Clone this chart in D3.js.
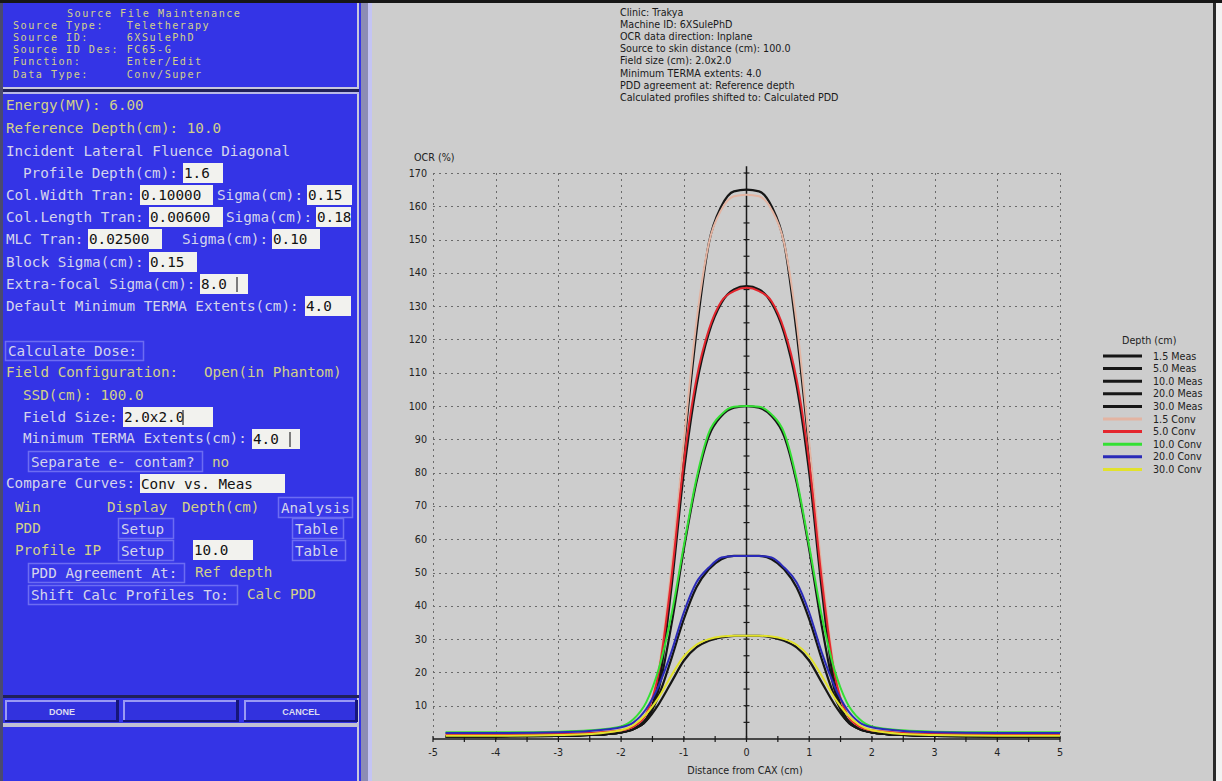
<!DOCTYPE html>
<html><head><meta charset="utf-8">
<script src="https://cdn.jsdelivr.net/npm/d3@7"></script>
<style>body{margin:0;background:#fff}svg{display:block}</style>
</head><body>
<svg id="c" width="1222" height="781"></svg>
<script>
// ---- profile data: off-axis ratio (%) vs distance from CAX (cm) ----
const distance = [-4.8,-4,-3,-2.5,-2,-1.8,-1.6,-1.4,-1.2,-1,-0.8,-0.6,-0.4,-0.2,0,0.2,0.4,0.6,0.8,1,1.2,1.4,1.6,1.8,2,2.5,3,4,5];
const meas15  = [0.8,0.8,0.9,1.2,2.0,3.0,5.5,19,48,87,122,149,160,164.5,165,164.5,160,149,122,87,48,19,5.5,3.0,2.0,1.2,0.9,0.8,0.8];
const meas50  = [0.8,0.8,0.9,1.2,2.0,3.0,5.5,16,45,80,106,122,131,135,136,135,131,122,106,80,45,16,5.5,3.0,2.0,1.2,0.9,0.8,0.8];
const meas100 = [0.8,0.8,0.9,1.2,2.0,3.0,6,15,34,57,77,91,97,99.5,100,99.5,97,91,77,57,34,15,6,3.0,2.0,1.2,0.9,0.8,0.8];
const meas200 = [0.8,0.8,0.9,1.2,2.0,3.2,6,13,24,36,45.5,51,54,55,55,55,54,51,45.5,36,24,13,6,3.2,2.0,1.2,0.9,0.8,0.8];
const meas300 = [0.8,0.8,0.9,1.2,2.0,3.2,5.5,10.5,17,23.5,27.5,29.5,30.5,31,31,31,30.5,29.5,27.5,23.5,17,10.5,5.5,3.2,2.0,1.2,0.9,0.8,0.8];
const conv15  = [1.4,1.4,1.5,1.8,2.6,3.8,7.5,21,51,89,125,149,159,163,163.5,163,159,149,125,89,51,21,7.5,3.8,2.6,1.8,1.5,1.4,1.4];
const conv50  = [1.4,1.4,1.5,1.8,2.6,3.8,7.5,20,48,83,108,123,131.5,134.5,135.5,134.5,131.5,123,108,83,48,20,7.5,3.8,2.6,1.8,1.5,1.4,1.4];
const conv100 = [2.0,2.0,2.2,2.6,3.8,6,11,21,37,58,78,92,97.5,99.8,100,99.8,97.5,92,78,58,37,21,11,6,3.8,2.6,2.2,2.0,2.0];
const conv200 = [1.8,1.8,2.0,2.4,3.5,5,9,16,26,38,47,51.5,54.5,55,55,55,54.5,51.5,47,38,26,16,9,5,3.5,2.4,2.0,1.8,1.8];
const conv300 = [1.0,1.0,1.2,1.5,2.6,4.2,7.5,12.5,19,24.8,28.3,30,30.8,31,31,31,30.8,30,28.3,24.8,19,12.5,7.5,4.2,2.6,1.5,1.2,1.0,1.0];

const seriesNames  = ['1.5 Meas','5.0 Meas','10.0 Meas','20.0 Meas','30.0 Meas','1.5 Conv','5.0 Conv','10.0 Conv','20.0 Conv','30.0 Conv'];
const seriesValues = [meas15, meas50, meas100, meas200, meas300, conv15, conv50, conv100, conv200, conv300];
const seriesColors = ['#161616','#161616','#161616','#161616','#161616','#e3b4a2','#e4262e','#34e034','#2a2ab8','#e2e22c'];

const xTicks = [-5,-4,-3,-2,-1,0,1,2,3,4,5];
const yTicks = [10,20,30,40,50,60,70,80,90,100,110,120,130,140,150,160,170];

const infoLines = ['Clinic: Trakya','Machine ID: 6XSulePhD','OCR data direction: Inplane',
  'Source to skin distance (cm): 100.0','Field size (cm): 2.0x2.0','Minimum TERMA extents: 4.0',
  'PDD agreement at: Reference depth','Calculated profiles shifted to: Calculated PDD'];

const headerLines = ['Source Type:   Teletherapy','Source ID:     6XSulePhD','Source ID Des: FC65-G',
  'Function:      Enter/Edit','Data Type:     Conv/Super'];

const MONO = "'DejaVu Sans Mono', monospace";
const SANS = "'DejaVu Sans', sans-serif";
const BLUE = '#3434e6';
const KHAKI = '#d2d08a';
const PALE = '#d4d4ec';

const svg = d3.select('#c');

// ---------- window backgrounds ----------
svg.append('rect').attr('x',0).attr('y',0).attr('width',1222).attr('height',781).attr('fill','#f2f2f2');
svg.append('rect').attr('x',370).attr('y',0).attr('width',844).attr('height',781).attr('fill','#cdcdcd');
svg.append('rect').attr('x',0).attr('y',0).attr('width',370).attr('height',781).attr('fill',BLUE);
svg.append('rect').attr('x',1213).attr('y',0).attr('width',3).attr('height',781).attr('fill','#2a2a2a');
svg.append('rect').attr('x',368).attr('y',0).attr('width',4).attr('height',781).attr('fill','#c4c4f4');
svg.append('rect').attr('x',361).attr('y',0).attr('width',7).attr('height',781).attr('fill','#8c8cb4');
svg.append('rect').attr('x',357).attr('y',3).attr('width',2).attr('height',778).attr('fill','#c8c8dc');
svg.append('rect').attr('x',0).attr('y',0).attr('width',3).attr('height',781).attr('fill','#4a4a70');
svg.append('rect').attr('x',0).attr('y',0).attr('width',1222).attr('height',3).attr('fill','#161616');

// panel separators
svg.append('rect').attr('x',3).attr('y',87).attr('width',356).attr('height',2).attr('fill','#c8c8dc');
svg.append('rect').attr('x',3).attr('y',89).attr('width',356).attr('height',3).attr('fill','#20205a');
svg.append('rect').attr('x',3).attr('y',92).attr('width',356).attr('height',2).attr('fill','#b8b8e8');
svg.append('rect').attr('x',3).attr('y',695).attr('width',356).attr('height',3).attr('fill','#20205a');
svg.append('rect').attr('x',3).attr('y',723).attr('width',356).attr('height',4).attr('fill','#c0c0d4');

// ---------- header panel (small mono type, widened tracking) ----------
svg.append('text').attr('x',67).attr('y',13).attr('dominant-baseline','central')
  .attr('font-family',MONO).attr('font-size',10.2).attr('letter-spacing',1.45)
  .attr('fill',KHAKI).text('Source File Maintenance');
svg.append('g').selectAll('text').data(headerLines).join('text')
  .attr('x',13).attr('y',(d,i)=>25+i*12.3).attr('dominant-baseline','central')
  .attr('font-family',MONO).attr('font-size',10.2).attr('letter-spacing',1.45).attr('fill',KHAKI)
  .style('white-space','pre').text(d=>d);

// ---------- parameter panel ----------
function label(t,x,y,c){
  svg.append('text').attr('x',x).attr('y',y).attr('dominant-baseline','central')
    .attr('font-family',MONO).attr('font-size',14.3).attr('fill',c||PALE)
    .style('white-space','pre').text(t);
}
function field(t,x,y,w,h,cursor){
  svg.append('rect').attr('x',x).attr('y',y).attr('width',w).attr('height',h).attr('fill','#f2f2ee');
  svg.append('text').attr('x',x+1).attr('y',y+h/2).attr('dominant-baseline','central')
    .attr('font-family',MONO).attr('font-size',14.3).attr('fill','#111').text(t);
  if(cursor!==undefined){
    svg.append('line').attr('x1',x+cursor).attr('x2',x+cursor).attr('y1',y+3).attr('y2',y+h-2)
      .attr('stroke','#555').attr('stroke-width',1.5);
  }
}
function button(t,x,y,w,h){
  svg.append('rect').attr('x',x+0.5).attr('y',y+0.5).attr('width',w).attr('height',h)
    .attr('fill','#3838e8').attr('stroke','#6c6cf2').attr('stroke-width',1.5);
  label(t,x+3,y+h/2+0.5,PALE);
}

label('Energy(MV): 6.00',6,105,KHAKI);
label('Reference Depth(cm): 10.0',6,128,KHAKI);
label('Incident Lateral Fluence Diagonal',6,151);
label('Profile Depth(cm):',23,173);           field('1.6',183,163,40,20);
label('Col.Width Tran:',6,195);               field('0.10000',140,185,73,20);
label('Sigma(cm):',217,195);                  field('0.15',307,185,45,20);
label('Col.Length Tran:',6,217);              field('0.00600',149,207,74,20);
label('Sigma(cm):',226,217);                  field('0.18',316,207,35,20);
label('MLC Tran:',6,239);                     field('0.02500',88,229,74,20);
label('Sigma(cm):',182,239);                  field('0.10',272,229,48,20);
label('Block Sigma(cm):',6,262);              field('0.15',149,252,48,20);
label('Extra-focal Sigma(cm):',6,284);        field('8.0',200,274,48,20,37);
label('Default Minimum TERMA Extents(cm):',6,306); field('4.0',305,296,46,20);

button('Calculate Dose:',5,341,138,19);
label('Field Configuration:   Open(in Phantom)',6,372,KHAKI);
label('SSD(cm): 100.0',23,395,KHAKI);
label('Field Size:',23,417);                  field('2.0x2.0',123,407,90,20,60);
label('Minimum TERMA Extents(cm):',23,438);   field('4.0',252,429,48,20,38);
button('Separate e- contam?',28,451,174,20);
label('no',212,462,KHAKI);
label('Compare Curves:',6,483);               field('Conv vs. Meas',140,474,145,19);
label('Win',15,507,KHAKI);
label('Display',107,507,KHAKI);
label('Depth(cm)',182,507,KHAKI);
button('Analysis',278,497,74,20);
label('PDD',15,528,KHAKI);
button('Setup',118,518,55,20);
button('Table',292,518,51,20);
label('Profile IP',15,550,KHAKI);
button('Setup',118,540,55,20);
field('10.0',193,540,60,20);
button('Table',292,540,53,20);
button('PDD Agreement At:',28,563,156,19);
label('Ref depth',195,572,KHAKI);
button('Shift Calc Profiles To:',28,585,209,19);
label('Calc PDD',247,594,KHAKI);

// bottom action buttons
const actions = [{t:'DONE',x:5,w:114},{t:'',x:123,w:116},{t:'CANCEL',x:244,w:114}];
actions.forEach(a=>{
  svg.append('rect').attr('x',a.x).attr('y',700).attr('width',a.w).attr('height',22).attr('fill','#3232de');
  svg.append('rect').attr('x',a.x).attr('y',700).attr('width',a.w).attr('height',2).attr('fill','#9a9af4');
  svg.append('rect').attr('x',a.x).attr('y',700).attr('width',2).attr('height',22).attr('fill','#9a9af4');
  svg.append('rect').attr('x',a.x).attr('y',720).attr('width',a.w).attr('height',2).attr('fill','#16167a');
  svg.append('rect').attr('x',a.x+a.w-3).attr('y',700).attr('width',3).attr('height',22).attr('fill','#16167a');
  svg.append('text').attr('x',a.x+a.w/2).attr('y',712).attr('text-anchor','middle').attr('dominant-baseline','central')
    .attr('font-family',"'Liberation Sans', sans-serif").attr('font-weight','bold').attr('font-size',9)
    .attr('fill','#dcdcf0').text(a.t);
});

// ---------- chart panel ----------
svg.append('g').selectAll('text').data(infoLines).join('text')
  .attr('x',620).attr('y',(d,i)=>12+i*12.2).attr('dominant-baseline','central')
  .attr('font-family',SANS).attr('font-size',9.6).attr('fill','#1a1a1a').text(d=>d);

const x = d3.scaleLinear().domain([-5,5]).range([433,1060]);
const y = d3.scaleLinear().domain([0,170]).range([739,173]);

const grid = svg.append('g').attr('stroke','#6a6a6a').attr('stroke-width',1).attr('stroke-dasharray','2,4');
grid.selectAll('.h').data(yTicks).join('line')
  .attr('x1',x(-5)).attr('x2',x(5)).attr('y1',d=>Math.round(y(d))+0.5).attr('y2',d=>Math.round(y(d))+0.5);
grid.selectAll('.v').data(xTicks.filter(d=>d!==0)).join('line')
  .attr('x1',d=>Math.round(x(d))+0.5).attr('x2',d=>Math.round(x(d))+0.5).attr('y1',y(170)).attr('y2',y(0));

// axes through the origin
const axisG = svg.append('g').attr('stroke','#1a1a1a');
axisG.append('line').attr('x1',x(-5)).attr('x2',x(5)).attr('y1',y(0)).attr('y2',y(0)).attr('stroke-width',1.5);
axisG.append('line').attr('x1',x(0)).attr('x2',x(0)).attr('y1',y(172)).attr('y2',y(0)).attr('stroke-width',1.5);
axisG.selectAll('.tx').data(d3.range(-5,5.01,0.5)).join('line')
  .attr('x1',d=>x(d)).attr('x2',d=>x(d)).attr('y1',y(0)-3).attr('y2',y(0)+3).attr('stroke-width',1.2);
axisG.selectAll('.ty').data(d3.range(5,171,5)).join('line')
  .attr('x1',x(0)-3).attr('x2',x(0)+3).attr('y1',d=>y(d)).attr('y2',d=>y(d)).attr('stroke-width',1.2);

svg.append('g').selectAll('text').data(yTicks).join('text')
  .attr('x',427).attr('y',d=>y(d)).attr('text-anchor','end').attr('dominant-baseline','central')
  .attr('font-family',SANS).attr('font-size',9.6).attr('fill','#222').text(d=>d);
svg.append('g').selectAll('text').data(xTicks).join('text')
  .attr('x',d=>x(d)).attr('y',752).attr('text-anchor','middle').attr('dominant-baseline','central')
  .attr('font-family',SANS).attr('font-size',9.6).attr('fill','#222').text(d=>d);
svg.append('text').attr('x',414).attr('y',157).attr('dominant-baseline','central')
  .attr('font-family',SANS).attr('font-size',9.6).attr('fill','#222').text('OCR (%)');
svg.append('text').attr('x',745).attr('y',770).attr('text-anchor','middle').attr('dominant-baseline','central')
  .attr('font-family',SANS).attr('font-size',9.6).attr('fill','#222').text('Distance from CAX (cm)');

// profile curves: measured first, calculated on top
const line = d3.line().x((d,i)=>x(distance[i])).y(d=>y(d)).curve(d3.curveMonotoneX);
svg.append('g').attr('fill','none').selectAll('path').data(seriesValues).join('path')
  .attr('d',d=>line(d)).attr('stroke',(d,i)=>seriesColors[i])
  .attr('stroke-width',(d,i)=>i<5?2.2:2).attr('stroke-linejoin','round');

// legend
const lg = svg.append('g');
lg.append('text').attr('x',1122).attr('y',340).attr('dominant-baseline','central')
  .attr('font-family',SANS).attr('font-size',9.6).attr('fill','#222').text('Depth (cm)');
const items = lg.selectAll('g').data(seriesNames).join('g')
  .attr('transform',(d,i)=>`translate(0,${356+i*12.6})`);
items.append('line').attr('x1',1103).attr('x2',1142).attr('y1',0).attr('y2',0)
  .attr('stroke',(d,i)=>seriesColors[i]).attr('stroke-width',3);
items.append('text').attr('x',1153).attr('y',0).attr('dominant-baseline','central')
  .attr('font-family',SANS).attr('font-size',9.6).attr('fill','#222').text(d=>d);
</script>
</body></html>
